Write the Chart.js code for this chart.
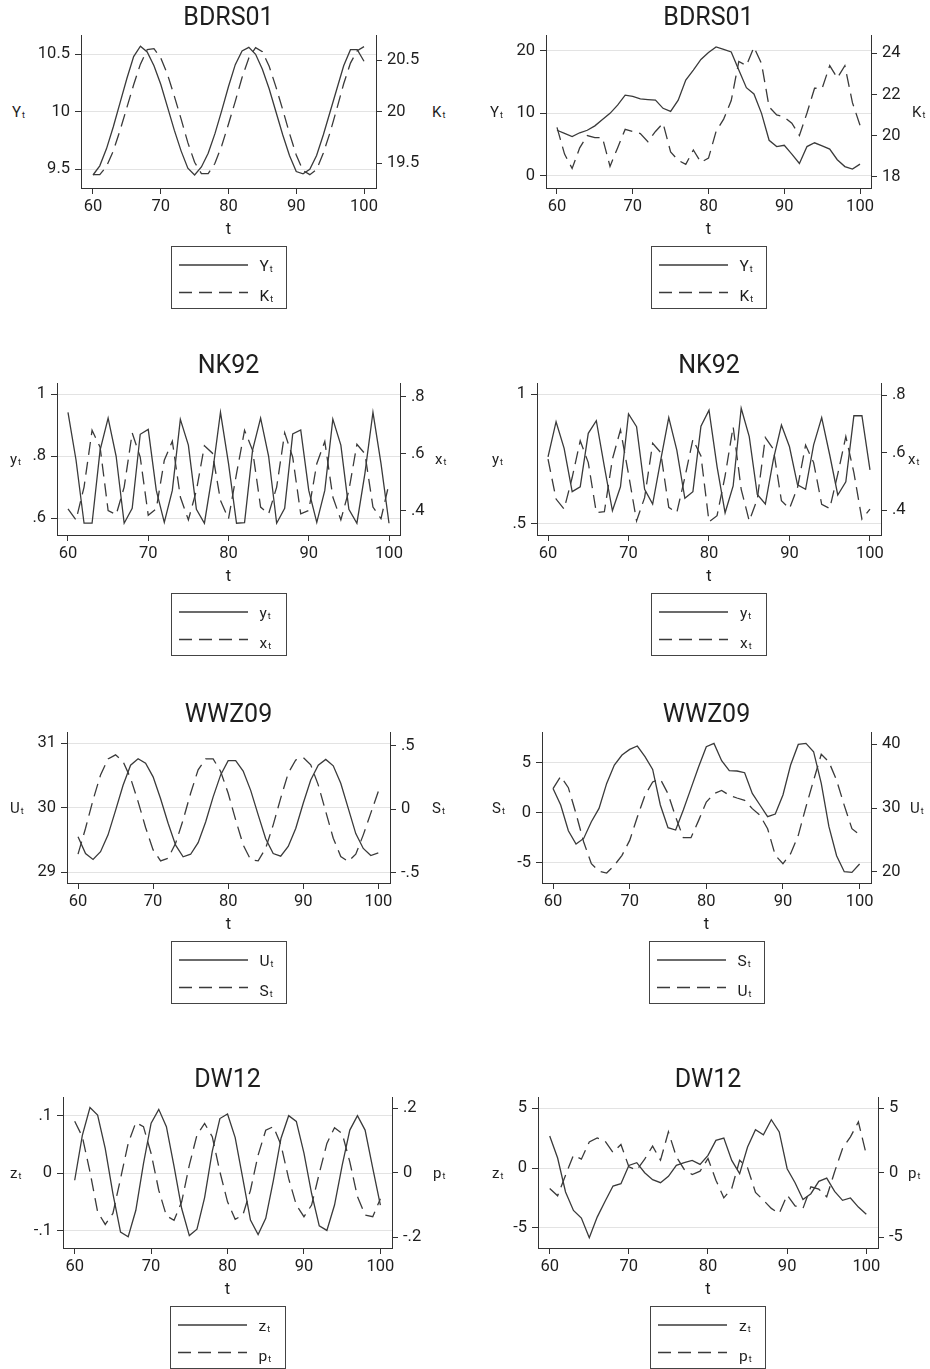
<!DOCTYPE html>
<html>
<head>
<meta charset="utf-8">
<script src="https://cdn.jsdelivr.net/npm/chart.js@4.4.1/dist/chart.umd.min.js"></script>
<style>
  body { margin: 0; background: #fff; width: 930px; height: 1369px; overflow: hidden; position: relative;
         font-family: Roboto, "DejaVu Sans", sans-serif; color: #1e1e1e; }
  canvas { position: absolute; }
  .ttl { position: absolute; font-size: 25px; transform: translate(-50%, -50%); white-space: nowrap; }
  .ax { position: absolute; font-size: 15px; transform: translateY(-50%); white-space: nowrap; }
  .xt { position: absolute; font-size: 16.5px; transform: translate(-50%, -50%); }
  .ax span, .lt span { font-size: 9px; position: relative; top: 1px; margin-left: 1px; }
  .leg { position: absolute; width: 116px; height: 63px; box-sizing: border-box; border: 1px solid #444; }
  .leg svg { position: absolute; left: 0; top: 0; }
  .lt { position: absolute; left: 88px; font-size: 15.5px; transform: translateY(-50%); white-space: nowrap; }
</style>
</head>
<body>
<script>
// time axis
const t = [60,61,62,63,64,65,66,67,68,69,70,71,72,73,74,75,76,77,78,79,80,
           81,82,83,84,85,86,87,88,89,90,91,92,93,94,95,96,97,98,99,100];
const xTicks = [60, 70, 80, 90, 100];
const xLabels = ["60", "70", "80", "90", "100"];

// BDRS01 (left)
const bdrsA_Y = [9.45,9.53,9.68,9.87,10.08,10.29,10.48,10.57,10.52,10.40,10.24,10.04,9.84,9.66,9.51,9.45,9.52,9.64,9.81,10.01,10.22,
                 10.41,10.53,10.56,10.50,10.37,10.20,10.00,9.80,9.62,9.48,9.46,9.50,9.62,9.80,10.00,10.20,10.40,10.54,10.54,10.44];
const bdrsA_K = [19.39,19.39,19.47,19.62,19.82,20.04,20.26,20.46,20.60,20.61,20.52,20.36,20.15,19.93,19.70,19.51,19.40,19.40,19.50,19.67,19.88,
                 20.10,20.33,20.52,20.62,20.58,20.44,20.24,20.02,19.79,19.58,19.43,19.39,19.44,19.60,19.80,20.03,20.27,20.47,20.59,20.63];
// BDRS01 (right)
const bdrsB_Y = [7.3,6.8,6.3,6.9,7.3,8.0,9.0,10.0,11.3,12.9,12.7,12.3,12.2,12.1,10.8,10.3,12.1,15.3,16.9,18.6,19.7,
                 20.6,20.2,19.8,16.9,14.1,13.1,10.0,5.7,4.7,4.9,3.5,2.0,4.7,5.3,4.8,4.3,2.6,1.5,1.1,1.9];
const bdrsB_K = [20.4,19.1,18.4,19.4,20.0,19.9,19.9,18.5,19.4,20.3,20.2,20.1,19.7,20.2,20.6,19.2,18.8,18.6,19.3,18.7,18.9,
                 20.2,20.8,21.7,23.6,23.4,24.3,23.5,21.4,21.0,20.9,20.6,20.0,21.1,22.3,22.3,23.4,22.8,23.4,21.6,20.5];
// NK92 (left)
const nkA_y = [0.942,0.788,0.584,0.584,0.82,0.923,0.8,0.584,0.632,0.871,0.887,0.69,0.587,0.69,0.919,0.836,0.629,0.584,0.745,0.942,0.777,
               0.584,0.586,0.82,0.923,0.8,0.584,0.632,0.872,0.885,0.69,0.587,0.69,0.92,0.836,0.629,0.584,0.745,0.942,0.777,0.584];
const nkA_x = [0.407,0.368,0.483,0.682,0.623,0.401,0.386,0.483,0.673,0.588,0.384,0.407,0.577,0.644,0.448,0.368,0.471,0.628,0.602,0.436,0.372,
               0.53,0.682,0.612,0.413,0.389,0.483,0.673,0.588,0.389,0.401,0.565,0.643,0.448,0.368,0.471,0.633,0.6,0.413,0.372,0.495];
// NK92 (right)
const nkB_y = [0.758,0.894,0.791,0.623,0.642,0.849,0.898,0.72,0.549,0.642,0.924,0.875,0.632,0.575,0.745,0.91,0.784,0.597,0.623,0.877,0.939,
               0.72,0.541,0.645,0.946,0.836,0.612,0.575,0.748,0.881,0.797,0.649,0.632,0.804,0.91,0.765,0.61,0.661,0.917,0.917,0.707];
const nkB_x = [0.577,0.438,0.403,0.513,0.641,0.565,0.391,0.394,0.577,0.679,0.525,0.362,0.443,0.632,0.6,0.409,0.391,0.513,0.646,0.588,0.359,
               0.38,0.519,0.69,0.472,0.362,0.438,0.652,0.612,0.432,0.405,0.478,0.626,0.565,0.42,0.405,0.525,0.656,0.53,0.368,0.403];
// WWZ09 (left)
const wwzA_U = [29.55,29.29,29.2,29.32,29.58,29.96,30.35,30.66,30.76,30.69,30.48,30.14,29.76,29.42,29.24,29.28,29.46,29.78,30.17,30.51,30.73,
                30.73,30.57,30.27,29.89,29.52,29.29,29.25,29.40,29.68,30.07,30.43,30.66,30.75,30.65,30.38,29.99,29.6,29.37,29.26,29.30];
const wwzA_S = [-0.354,-0.15,0.073,0.27,0.396,0.428,0.375,0.244,0.06,-0.144,-0.32,-0.407,-0.386,-0.268,-0.084,0.126,0.31,0.396,0.396,0.297,0.126,
                -0.084,-0.281,-0.399,-0.407,-0.307,-0.123,0.087,0.283,0.388,0.407,0.349,0.192,-0.018,-0.228,-0.373,-0.412,-0.354,-0.202,-0.031,0.139];
// WWZ09 (right)
const wwzB_S = [2.43,0.77,-1.8,-3.13,-2.57,-0.9,0.43,2.93,4.77,5.77,6.33,6.67,5.6,4.33,0.77,-1.5,-1.73,0.27,2.43,4.6,6.6,
                6.93,5.2,4.2,4.17,4.0,1.93,0.77,-0.4,-0.13,1.77,4.77,6.83,6.93,6.1,2.93,-1.4,-4.3,-5.9,-5.97,-5.13];
const wwzB_U = [33.04,34.97,33.19,29.11,24.66,21.26,20.1,19.79,21.0,22.57,24.92,28.59,31.99,34.08,34.55,32.25,28.59,25.34,25.34,28.06,30.94,
                32.25,32.77,31.99,31.57,31.2,29.9,28.85,26.75,22.57,21.26,22.83,25.71,30.16,34.35,38.43,37.23,34.35,30.42,26.75,25.81];
// DW12 (left)
const dwA_z = [-0.012,0.066,0.114,0.101,0.043,-0.035,-0.102,-0.11,-0.064,0.017,0.087,0.111,0.081,0.012,-0.061,-0.108,-0.097,-0.042,0.038,0.095,0.103,
               0.062,-0.009,-0.081,-0.106,-0.078,-0.012,0.061,0.1,0.09,0.035,-0.035,-0.091,-0.099,-0.055,0.014,0.075,0.1,0.075,0.009,-0.055];
const dwA_p = [0.16,0.112,0.003,-0.121,-0.16,-0.126,-0.018,0.091,0.156,0.143,0.06,-0.054,-0.133,-0.147,-0.09,0.024,0.117,0.153,0.112,0.003,-0.09,
               -0.144,-0.131,-0.054,0.055,0.132,0.143,0.086,-0.018,-0.1,-0.136,-0.1,-0.002,0.091,0.14,0.122,0.034,-0.074,-0.131,-0.136,-0.08];
// DW12 (right)
const dwB_z = [2.68,0.84,-2.01,-3.55,-4.19,-5.84,-4.11,-2.79,-1.51,-1.31,0.22,0.45,-0.39,-0.98,-1.23,-0.7,0.22,0.45,0.64,0.31,1.06,
               2.32,2.51,0.64,-0.47,1.76,3.21,2.79,4.05,3.02,-0.06,-1.23,-2.63,-2.15,-1.12,-0.84,-1.96,-2.71,-2.51,-3.27,-3.88];
const dwB_p = [-1.21,-1.78,-0.18,1.37,1.06,2.4,2.71,2.45,1.58,2.2,0.47,0.21,1.06,2.07,0.98,3.18,1.24,0.26,-0.13,0.13,1.11,
               -0.57,-1.94,-1.21,0.98,0.39,-1.52,-2.12,-2.76,-3.15,-1.73,-2.56,-2.76,-1.09,-1.27,-1.86,0.08,1.89,2.79,3.95,1.42];

const LINE = "#3a3a3a";
const AXIS = "#333333";
const GRID = "#e3e3e3";
const TXT = "#1e1e1e";
const DASH = [13, 7];
const FONT = { family: "Roboto", size: 16.5 };
const LEFT_W = 50, RIGHT_W = 45, TOP_PAD = 15, X_H = 40;

// layout of each panel: plot box (L,R,T,B), axis ranges, ticks, names, axis title x positions
const panels = [
  { title: "BDRS01", L: 81, R: 376, T: 35, B: 188, x: [58.23, 101.77],
    solid: bdrsA_Y, dash: bdrsA_K, names: [["Y","t"],["K","t"]],
    yl: [9.337, 10.668], ylT: [9.5, 10, 10.5], ylL: ["9.5", "10", "10.5"],
    yr: [19.261, 20.742], yrT: [19.5, 20, 20.5], yrL: ["19.5", "20", "20.5"], axL: 12, axR: 432 },
  { title: "BDRS01", L: 546, R: 871, T: 35, B: 188, x: [58.55, 101.45],
    solid: bdrsB_Y, dash: bdrsB_K, names: [["Y","t"],["K","t"]],
    yl: [-1.915, 22.5], ylT: [0, 10, 20], ylL: ["0", "10", "20"],
    yr: [17.45, 24.89], yrT: [18, 20, 22, 24], yrL: ["18", "20", "22", "24"], axL: 490, axR: 912 },
  { title: "NK92", L: 57, R: 400, T: 383, B: 535, x: [58.63, 101.37],
    solid: nkA_y, dash: nkA_x, names: [["y","t"],["x","t"]],
    yl: [0.546, 1.0365], ylT: [0.6, 0.8, 1], ylL: [".6", ".8", "1"],
    yr: [0.315, 0.848], yrT: [0.4, 0.6, 0.8], yrL: [".4", ".6", ".8"], axL: 10, axR: 435 },
  { title: "NK92", L: 537, R: 881, T: 383, B: 535, x: [58.63, 101.37],
    solid: nkB_y, dash: nkB_x, names: [["y","t"],["x","t"]],
    yl: [0.455, 1.044], ylT: [0.5, 1], ylL: [".5", "1"],
    yr: [0.313, 0.842], yrT: [0.4, 0.6, 0.8], yrL: [".4", ".6", ".8"], axL: 492, axR: 908 },
  { title: "WWZ09", L: 67, R: 390, T: 732, B: 883, x: [58.53, 101.56],
    solid: wwzA_U, dash: wwzA_S, names: [["U","t"],["S","t"]],
    yl: [28.834, 31.175], ylT: [29, 30, 31], ylL: ["29", "30", "31"],
    yr: [-0.581, 0.608], yrT: [-0.5, 0, 0.5], yrL: ["-.5", "0", ".5"], axL: 10, axR: 432 },
  { title: "WWZ09", L: 542, R: 871, T: 732, B: 883, x: [58.56, 101.49],
    solid: wwzB_S, dash: wwzB_U, names: [["S","t"],["U","t"]],
    yl: [-7.03, 8.07], ylT: [-5, 0, 5], ylL: ["-5", "0", "5"],
    yr: [18.23, 41.93], yrT: [20, 30, 40], yrL: ["20", "30", "40"], axL: 492, axR: 910 },
  { title: "DW12", L: 63, R: 392, T: 1097, B: 1248, x: [58.47, 101.52],
    solid: dwA_z, dash: dwA_p, names: [["z","t"],["p","t"]],
    yl: [-0.1295, 0.1324], ylT: [-0.1, 0, 0.1], ylL: ["-.1", "0", ".1"],
    yr: [-0.233, 0.235], yrT: [-0.2, 0, 0.2], yrL: ["-.2", "0", ".2"], axL: 10, axR: 433 },
  { title: "DW12", L: 538, R: 878, T: 1097, B: 1248, x: [58.52, 101.48],
    solid: dwB_z, dash: dwB_p, names: [["z","t"],["p","t"]],
    yl: [-6.7, 5.95], ylT: [-5, 0, 5], ylL: ["-5", "0", "5"],
    yr: [-5.83, 5.88], yrT: [-5, 0, 5], yrL: ["-5", "0", "5"], axL: 492, axR: 908 },
];

function pts(vals) {
  return t.map((x, i) => ({ x: x, y: vals[i] }));
}

function addDiv(cls, html, left, top) {
  const d = document.createElement("div");
  d.className = cls;
  d.innerHTML = html;
  d.style.left = left + "px";
  d.style.top = top + "px";
  document.body.appendChild(d);
  return d;
}

function name(n) {
  return n[0] + "<span>" + n[1] + "</span>";
}

function axisOpts(pos, range, ticks, labels, width, onArea) {
  return {
    type: "linear",
    position: pos,
    min: range[0],
    max: range[1],
    afterBuildTicks: (s) => { s.ticks = ticks.map((v) => ({ value: v })); },
    afterFit: (s) => { s.width = width; },
    grid: { drawOnChartArea: onArea, color: GRID, lineWidth: 1, tickColor: AXIS, tickLength: 6, tickWidth: 1 },
    border: { display: true, color: AXIS, width: 1 },
    ticks: { font: FONT, color: TXT, padding: 5, callback: (v, i) => labels[i] },
  };
}

function drawPanel(p) {
  const W = p.R - p.L + LEFT_W + RIGHT_W;
  const H = p.B - p.T + TOP_PAD + X_H;
  const cv = document.createElement("canvas");
  cv.width = W;
  cv.height = H;
  cv.style.left = (p.L - LEFT_W) + "px";
  cv.style.top = (p.T - TOP_PAD) + "px";
  cv.style.width = W + "px";
  cv.style.height = H + "px";
  document.body.appendChild(cv);

  new Chart(cv, {
    type: "line",
    data: {
      datasets: [
        { label: p.names[0].join(""), data: pts(p.solid), yAxisID: "y",
          borderColor: LINE, borderWidth: 1.3, pointRadius: 0, tension: 0, fill: false },
        { label: p.names[1].join(""), data: pts(p.dash), yAxisID: "y2",
          borderColor: LINE, borderWidth: 1.3, borderDash: DASH, pointRadius: 0, tension: 0, fill: false },
      ],
    },
    options: {
      responsive: false,
      animation: false,
      devicePixelRatio: 1,
      layout: { padding: { top: TOP_PAD, left: 0, right: 0, bottom: 0 } },
      plugins: { legend: { display: false }, tooltip: { enabled: false } },
      scales: {
        x: {
          type: "linear",
          min: p.x[0],
          max: p.x[1],
          afterBuildTicks: (s) => { s.ticks = xTicks.map((v) => ({ value: v })); },
          afterFit: (s) => { s.height = X_H; },
          grid: { drawOnChartArea: false, tickColor: AXIS, tickLength: 6, lineWidth: 1 },
          border: { display: true, color: AXIS, width: 1 },
          ticks: { font: FONT, color: TXT, padding: 3, maxRotation: 0, callback: (v, i) => xLabels[i] },
        },
        y: axisOpts("left", p.yl, p.ylT, p.ylL, LEFT_W, true),
        y2: axisOpts("right", p.yr, p.yrT, p.yrL, RIGHT_W, false),
      },
    },
  });

  const cx = (p.L + p.R) / 2;
  const cy = (p.T + p.B) / 2;
  addDiv("ttl", p.title, cx, p.T - 19);
  addDiv("ax", name(p.names[0]), p.axL, cy);
  addDiv("ax", name(p.names[1]), p.axR, cy);
  addDiv("xt", "t", cx, p.B + 40);

  // legend box below the plot
  const leg = addDiv("leg", "", cx - 58, p.B + 58);
  leg.innerHTML =
    '<svg width="116" height="63">' +
    '<line x1="7" y1="18" x2="76" y2="18" stroke="' + LINE + '" stroke-width="1.3"/>' +
    '<line x1="7" y1="45.5" x2="76" y2="45.5" stroke="' + LINE + '" stroke-width="1.3" stroke-dasharray="' + DASH.join(" ") + '"/>' +
    "</svg>" +
    '<div class="lt" style="top:19px">' + name(p.names[0]) + "</div>" +
    '<div class="lt" style="top:49px">' + name(p.names[1]) + "</div>";
}

panels.forEach(drawPanel);
</script>
</body>
</html>
